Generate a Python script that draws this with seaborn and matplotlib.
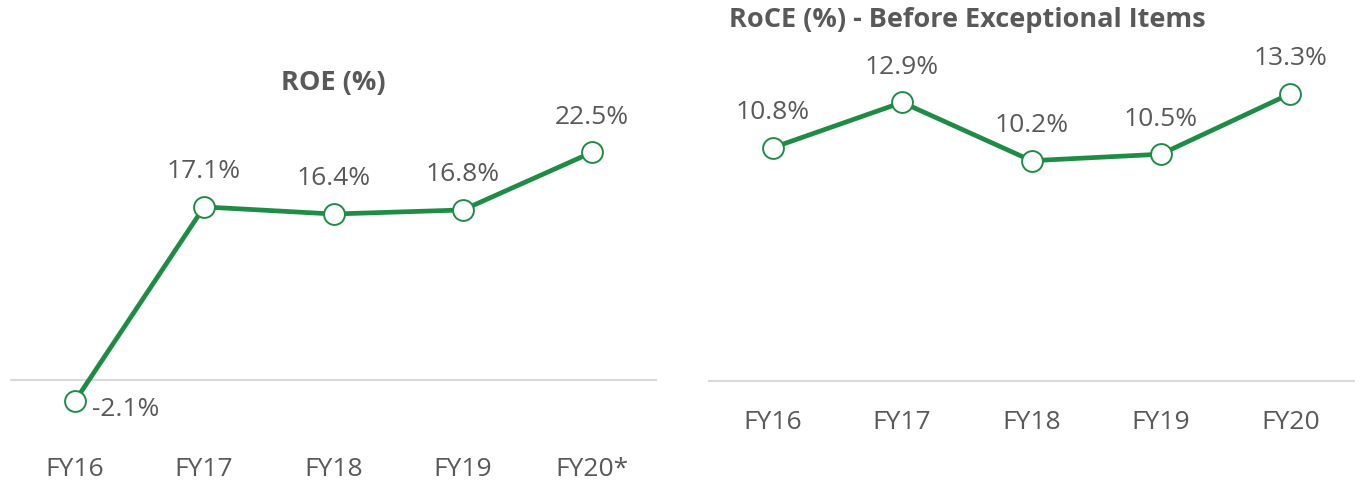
import pandas as pd
import matplotlib.pyplot as plt
import seaborn as sns

# Chart data
roe_years = ['FY16', 'FY17', 'FY18', 'FY19', 'FY20*']
roe_values = [-2.1, 17.1, 16.4, 16.8, 22.5]

roce_years = ['FY16', 'FY17', 'FY18', 'FY19', 'FY20']
roce_values = [10.8, 12.9, 10.2, 10.5, 13.3]

green = '#1E8C45'
text_gray = '#595959'
fs = 19

sns.set_theme(style='white')
plt.rcParams['font.family'] = ['Open Sans', 'DejaVu Sans']

fig = plt.figure(figsize=(13.55, 4.81), dpi=100)

# axes placed in figure pixels to follow the reference layout
W, H = 1355, 481
ax1 = fig.add_axes([10 / W, 1 - 442 / H, 647 / W, (442 - 138) / H])
ax2 = fig.add_axes([708 / W, 1 - 399.3 / H, 647 / W, (399.3 - 68.8) / H])


def draw(ax, years, values, ylim, pad):
    df = pd.DataFrame({'year': years, 'value': values})
    sns.lineplot(data=df, x='year', y='value', ax=ax, color=green, linewidth=3.4,
                 marker='o', markersize=15, markerfacecolor='white',
                 markeredgecolor=green, markeredgewidth=1.4, sort=False)
    ax.set_xlim(-0.5, len(years) - 0.5)
    ax.set_ylim(*ylim)
    ax.axhline(0, color='#D9D9D9', linewidth=1.5, zorder=0)
    for s in ax.spines.values():
        s.set_visible(False)
    ax.set_yticks([])
    ax.set_xlabel('')
    ax.set_ylabel('')
    ax.tick_params(axis='x', length=0, pad=pad, labelsize=fs, labelcolor=text_gray)
    for i, v in enumerate(values):
        if v < 0:
            ax.annotate(f'{v:.1f}%', (i, v), xytext=(12.5, -5), textcoords='offset points',
                        ha='left', va='center', fontsize=fs, color=text_gray)
        else:
            ax.annotate(f'{v:.1f}%', (i, v), xytext=(0, 26), textcoords='offset points',
                        ha='center', va='center', fontsize=fs, color=text_gray)


draw(ax1, roe_years, roe_values, (-6, 24), 11)
draw(ax2, roce_years, roce_values, (-0.8, 14.5), 8)

fig.text(333 / W, 1 - 83 / H, 'ROE (%)', ha='center', va='center',
         fontsize=19.5, fontweight='bold', color=text_gray)
fig.text(729 / W, 1 - 20 / H, 'RoCE (%) - Before Exceptional Items', ha='left', va='center',
         fontsize=19.5, fontweight='bold', color=text_gray)

fig.savefig('out.png', dpi=100)
